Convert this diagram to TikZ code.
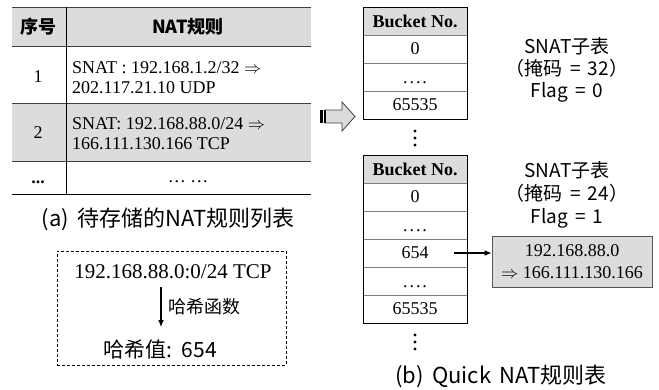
\documentclass[tikz,border=0pt]{standalone}
\usepackage{fontspec}
\setmainfont{Liberation Serif}
\newfontfamily\cjk[WordSpace=1.7]{Noto Sans CJK SC}
\usetikzlibrary{arrows.meta}
\definecolor{cellgray}{HTML}{DCDCDC}
\definecolor{linegray}{HTML}{808080}
\definecolor{rulegray}{HTML}{404040}
\definecolor{boxborder}{HTML}{555555}
\newcommand{\bdots}{.\kern2pt.\kern2pt.\kern2pt.}
\begin{document}
\begin{tikzpicture}[x=1pt,y=-1pt,
  txt/.style={font=\fontsize{18}{20}\selectfont, inner sep=0pt},
  bigtxt/.style={font=\fontsize{21}{24}\selectfont, inner sep=0pt},
  hdr/.style={font=\cjk\bfseries\fontsize{18}{20}\selectfont, inner sep=0pt},
  cjktxt/.style={font=\cjk\fontsize{19}{22}\selectfont, inner sep=0pt, align=center},
  cjksmall/.style={font=\cjk\fontsize{18}{20}\selectfont, inner sep=0pt},
  cjkbig/.style={font=\cjk\fontsize{21}{24}\selectfont, inner sep=0pt},
  captxt/.style={font=\cjk\fontsize{22}{24}\selectfont, inner sep=0pt},
  ruleline/.style={draw=rulegray, line width=1pt},
  innerline/.style={draw=linegray, line width=0.9pt},
  conn/.style={-{Latex[length=7pt,width=6pt]}, line width=1.1pt}
]
\useasboundingbox (0,0) rectangle (659,389);

% ---------- left table ----------
\fill[cellgray] (12,7) rectangle (311,46);
\fill[cellgray] (12,103) rectangle (311,161);
\draw[ruleline] (12,7) -- (311,7);
\draw[ruleline] (12,46) -- (311,46);
\draw[ruleline] (12,103) -- (311,103);
\draw[ruleline] (12,161) -- (311,161);
\draw[ruleline, draw=black] (12,194) -- (311,194);
\draw[line width=1pt] (66,7) -- (66,194);

\node[hdr] (h1) at (38,27) {序号};
\node[hdr] (h2) at (188,27) {NAT规则};
\node[txt] (n1) at (38,77) {1};
\node[txt, anchor=west, align=left] (r1) at (72,78) {SNAT : 192.168.1.2/32 $\Rightarrow$\\202.117.21.10 UDP};
\node[txt] (n2) at (38,133) {2};
\node[txt, anchor=west, align=left] (r2) at (72,134) {SNAT: 192.168.88.0/24 $\Rightarrow$\\166.111.130.166 TCP};
\node[txt] (n3) at (38,182) {\textbf{...}};
\node[txt] (r3) at (188,182) {… …};

\node[captxt] (capa) at (168,219) {(a) 待存储的NAT规则列表};

% ---------- hash box ----------
\node[draw=black, dashed, dash pattern=on 3pt off 2pt, line width=0.9pt,
      minimum width=229pt, minimum height=114pt, inner sep=0pt] (hbox) at (171.5,308) {};
\node[bigtxt] (key) at (173,272) {192.168.88.0:0/24 TCP};
\coordinate (ha) at (161,287);
\coordinate (hb) at (161,327);
\draw[conn] (ha) -- (hb);
\node[cjksmall, anchor=west] (hf) at (168,307) {哈希函数};
\node[cjkbig] (hv) at (160,350) {哈希值: 654};

% ---------- block arrow ----------
\filldraw[fill=cellgray, draw=black!75, line width=0.8pt]
  (325,110) -- (342,110) -- (342,102) -- (355,116.5) -- (342,131) -- (342,123) -- (325,123) -- cycle;
\fill[black] (320,110) rectangle (322.5,123);
\fill[black] (323.5,110) rectangle (325.5,123);

% ---------- bucket table 1 ----------
\fill[cellgray] (363,7) rectangle (467,35);
\draw[innerline] (363,35) -- (467,35);
\draw[innerline] (363,63) -- (467,63);
\draw[innerline] (363,91) -- (467,91);
\draw[line width=1pt] (363,7) rectangle (467,119);
\node[txt] (b1h) at (415,21) {\textbf{Bucket No.}};
\node[txt] (b1a) at (415,49) {0};
\node[txt] (b1b) at (415,83) {\bdots};
\node[txt] (b1c) at (415,105) {65535};

\foreach \yy in {131,138,145} \fill (415,\yy) circle (1.7pt);

\node[cjktxt] (s1) at (567,70) {SNAT子表\\（掩码 = 32）\\Flag = 0};

% ---------- bucket table 2 ----------
\fill[cellgray] (363,155) rectangle (467,183);
\foreach \yy in {183,211,239,267,295} \draw[innerline] (363,\yy) -- (467,\yy);
\draw[line width=1pt] (363,155) rectangle (467,323);
\node[txt] (b2h) at (415,169) {\textbf{Bucket No.}};
\node[txt] (b2a) at (415,197) {0};
\node[txt] (b2b) at (415,231) {\bdots};
\node[txt] (b2c) at (415,253) {654};
\node[txt] (b2d) at (415,287) {\bdots};
\node[txt] (b2e) at (415,309) {65535};

\foreach \yy in {335,342,349} \fill (415,\yy) circle (1.7pt);

\node[cjktxt, font=\cjk\fontsize{19}{23}\selectfont] (s2) at (567,195) {SNAT子表\\（掩码 = 24）\\Flag = 1};

\node[draw=boxborder, fill=cellgray, line width=1pt, minimum width=160pt, minimum height=51pt,
      inner sep=0pt, align=center, font=\fontsize{18}{22}\selectfont] (gbox) at (572,261.5)
      {192.168.88.0\\$\Rightarrow$ 166.111.130.166};
\draw[conn] ([xshift=25pt]b2c.east) -- (b2c.east -| gbox.west);

\node[captxt] (capb) at (501,376) {(b) Quick NAT规则表};
\end{tikzpicture}
\end{document}
